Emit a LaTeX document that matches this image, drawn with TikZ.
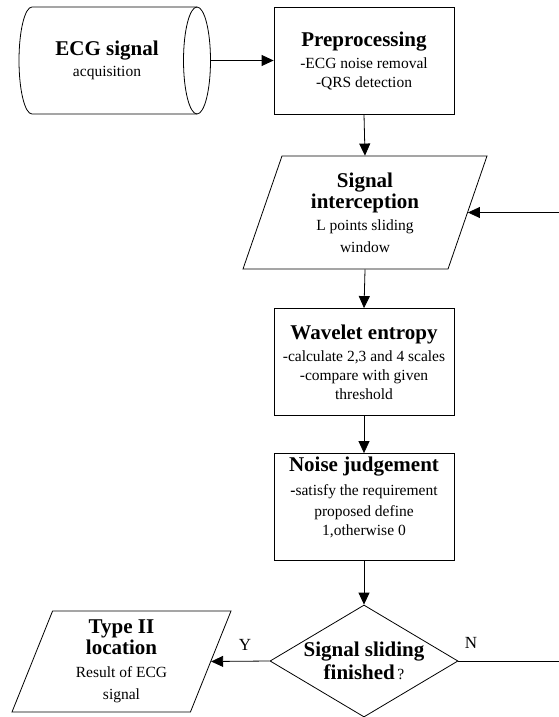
\documentclass[tikz,border=0pt]{standalone}
\usepackage{fontspec}
\setmainfont{Liberation Serif}
\usepackage{tikz}
\usetikzlibrary{shapes.geometric}
\usetikzlibrary{arrows.meta}

\newcommand{\ttl}[1]{{\fontsize{21}{25}\selectfont\bfseries #1}}

\begin{document}
\begin{tikzpicture}[x=1pt,y=1pt,yscale=-1,xscale=1,
  every node/.style={font=\fontsize{15.5}{19}\selectfont, align=center},
  box/.style={draw, line width=0.8pt, rectangle, minimum width=180pt, minimum height=107pt, inner sep=0pt},
  io/.style={draw, line width=0.8pt, trapezium, trapezium left angle=64, trapezium right angle=116, trapezium stretches body, inner sep=0pt},
  decision/.style={draw, line width=0.8pt, diamond, aspect=1.68, minimum width=188pt, minimum height=112pt, inner sep=-4pt},
  flow/.style={line width=0.8pt, -{Triangle[length=12pt,width=11pt]}},
  yn/.style={font=\fontsize{17}{20}\selectfont}]
\useasboundingbox (0,0) rectangle (559,717);

%Shape: Can [id:acq] 
\draw[line width=0.8pt] (197,7) -- (32,7) arc[start angle=270, end angle=90, x radius=13, y radius=53.5] -- (197,114) ;
\draw[line width=0.8pt] (197,60.5) ellipse [x radius=13.5, y radius=53.5] ;
\node (acq) at (107,60) {\ttl{ECG signal}\\[2pt]acquisition};
\coordinate (acqr) at (210.5,60.5);

%Shape: Rectangle [id:pre] 
\node[box] (pre) at (364,60.5) {\ttl{Preprocessing}\\[3pt]-ECG noise removal\\-QRS detection};

%Shape: Parallelogram [id:sig] 
\node[io, minimum width=244pt, minimum height=113pt] (sig) at (365,212.5)
  {\ttl{Signal}\\[1pt]\ttl{interception}\\[3pt]L points sliding\\[3pt]window};

%Shape: Rectangle [id:wav] 
\node[box] (wav) at (364,362) {\ttl{Wavelet entropy}\\[3pt]-calculate 2,3 and 4 scales\\-compare with given\\threshold};

%Shape: Rectangle [id:noi] 
\node[box, text depth=22pt] (noi) at (364,507) {\ttl{Noise judgement}\\[5pt]{\bfseries -}satisfy the requirement\\[2pt]proposed define\\1,otherwise 0};

%Shape: Diamond [id:dec] 
\node[decision] (dec) at (364,661) {\ttl{Signal sliding}\\[3pt]\ttl{finished}\,?};

%Shape: Parallelogram [id:typ] 
\node[io, minimum width=219pt, minimum height=101pt] (typ) at (121.5,661.5)
  {\ttl{Type II}\\[1pt]\ttl{location}\\[4pt]Result of ECG\\[3pt]signal};

% loop ends at the right margin
\coordinate (nout) at (559,661);
\coordinate (nin) at (559,212.5);

%Straight Lines 
\draw[flow] (acqr) -- (pre.west);
\draw[flow] (pre.south) -- (sig.north);
\draw[flow] (sig.south) -- (wav.north);
\draw[flow] (wav.south) -- (noi.north);
\draw[flow] (noi.south) -- (dec.north);
\draw[flow] (dec.west) -- (typ.east);
\draw[line width=0.8pt] (dec.east) -- (nout);
\draw[flow] (nin) -- (sig.east);

% Text Node
\draw (245,645) node [yn] (y) {Y};
% Text Node
\draw (471,643) node [yn] (n) {N};

\end{tikzpicture}
\end{document}
